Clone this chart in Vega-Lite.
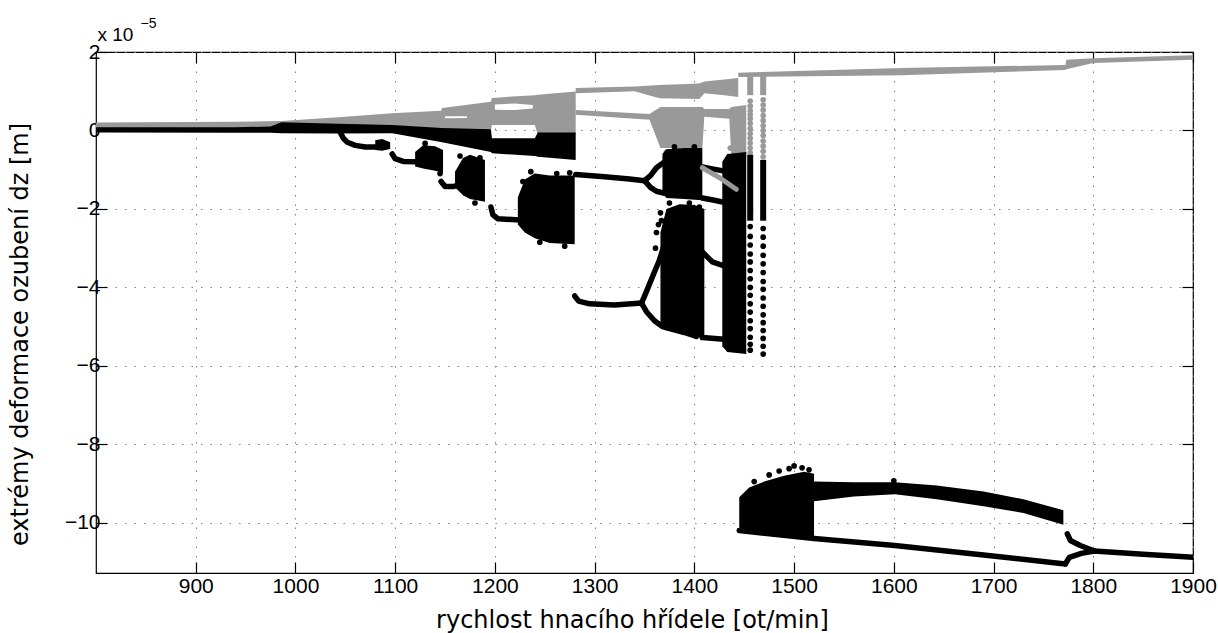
{
  "$schema": "https://vega.github.io/schema/vega-lite/v6.json",
  "width": 1097,
  "height": 521,
  "autosize": {"type": "none"},
  "padding": {"left": 96, "top": 52, "right": 25, "bottom": 60},
  "background": "white",
  "config": {
    "view": {"stroke": "#000000", "strokeWidth": 1.2},
    "font": "Liberation Sans"
  },
  "resolve": {"axis": {"x": "independent", "y": "independent"}},
  "datasets": {
    "grayBand": [
      {"s": "g1", "x": 800, "lo": 0.05, "hi": 0.2},
      {"s": "g1", "x": 940, "lo": 0.05, "hi": 0.22},
      {"s": "g1", "x": 986, "lo": 0.05, "hi": 0.24},
      {"s": "g1", "x": 1043, "lo": 0.05, "hi": 0.34},
      {"s": "g1", "x": 1097, "lo": 0.05, "hi": 0.44},
      {"s": "g1", "x": 1146, "lo": 0.0, "hi": 0.5},
      {"s": "g1", "x": 1147, "lo": 0.0, "hi": 0.57},
      {"s": "g1", "x": 1196, "lo": 0.0, "hi": 0.73},
      {"s": "g1", "x": 1197, "lo": 0.14, "hi": 0.83},
      {"s": "g1", "x": 1240, "lo": 0.14, "hi": 0.9},
      {"s": "g1", "x": 1243, "lo": -0.1, "hi": 0.91},
      {"s": "g1", "x": 1281, "lo": -0.1, "hi": 0.99},
      {"s": "g2", "x": 1281, "lo": 0.95, "hi": 1.08},
      {"s": "g2", "x": 1340, "lo": 1.0, "hi": 1.12},
      {"s": "g2", "x": 1365, "lo": 0.82, "hi": 1.16},
      {"s": "g2", "x": 1405, "lo": 0.8, "hi": 1.2},
      {"s": "g2", "x": 1410, "lo": 0.95, "hi": 1.25},
      {"s": "g2", "x": 1430, "lo": 0.9, "hi": 1.3},
      {"s": "g2", "x": 1444, "lo": 0.85, "hi": 1.34},
      {"s": "g3", "x": 1281, "lo": 0.4, "hi": 0.52},
      {"s": "g3", "x": 1355, "lo": 0.27, "hi": 0.42},
      {"s": "g3", "x": 1366, "lo": -0.45, "hi": 0.6},
      {"s": "g3", "x": 1408, "lo": -0.45, "hi": 0.6},
      {"s": "g3", "x": 1410, "lo": 0.35, "hi": 0.55},
      {"s": "g3", "x": 1435, "lo": 0.3, "hi": 0.55},
      {"s": "g3", "x": 1437, "lo": -0.6, "hi": 0.6},
      {"s": "g3", "x": 1452, "lo": -0.6, "hi": 0.65},
      {"s": "g4", "x": 1444, "lo": 1.36, "hi": 1.47},
      {"s": "g4", "x": 1608, "lo": 1.41, "hi": 1.59},
      {"s": "g4", "x": 1772, "lo": 1.54, "hi": 1.67},
      {"s": "g4", "x": 1773, "lo": 1.56, "hi": 1.8},
      {"s": "g4", "x": 1800, "lo": 1.72, "hi": 1.84},
      {"s": "g4", "x": 1900, "lo": 1.8, "hi": 1.92}
    ],
    "whiteGap": [
      {"s": "w1", "x": 1150, "lo": 0.31, "hi": 0.36},
      {"s": "w1", "x": 1172, "lo": 0.32, "hi": 0.36},
      {"s": "w2", "x": 1200, "lo": 0.53, "hi": 0.66},
      {"s": "w2", "x": 1220, "lo": 0.52, "hi": 0.69},
      {"s": "w2", "x": 1238, "lo": 0.56, "hi": 0.65}
    ],
    "grayRule": [
      {"x": 1456, "y": 0.9, "y2": 1.47},
      {"x": 1469, "y": 0.9, "y2": 1.47}
    ],
    "grayPts": [
      {"x": 1456, "y": 0.75}, {"x": 1456, "y": 0.62}, {"x": 1456, "y": 0.5}, {"x": 1456, "y": 0.4},
      {"x": 1456, "y": 0.3}, {"x": 1456, "y": 0.18}, {"x": 1456, "y": 0.05}, {"x": 1456, "y": -0.08},
      {"x": 1456, "y": -0.2}, {"x": 1456, "y": -0.32}, {"x": 1456, "y": -0.45}, {"x": 1456, "y": -0.57},
      {"x": 1469, "y": 0.78}, {"x": 1469, "y": 0.65}, {"x": 1469, "y": 0.52}, {"x": 1469, "y": 0.38},
      {"x": 1469, "y": 0.25}, {"x": 1469, "y": 0.12}, {"x": 1469, "y": 0.0}, {"x": 1469, "y": -0.13},
      {"x": 1469, "y": -0.27}, {"x": 1469, "y": -0.4}, {"x": 1469, "y": -0.53}, {"x": 1469, "y": -0.67},
      {"x": 1440, "y": -0.7}, {"x": 1436, "y": -0.45}, {"x": 1372, "y": -0.55}, {"x": 1384, "y": -0.5}
    ],
    "blackBand": [
      {"s": "b0", "x": 800, "lo": -0.05, "hi": 0.08},
      {"s": "b0", "x": 940, "lo": -0.06, "hi": 0.08},
      {"s": "b0", "x": 975, "lo": -0.06, "hi": 0.1},
      {"s": "b0", "x": 986, "lo": -0.07, "hi": 0.21},
      {"s": "b0", "x": 1043, "lo": -0.08, "hi": 0.17},
      {"s": "b0", "x": 1097, "lo": -0.07, "hi": 0.14},
      {"s": "b0", "x": 1147, "lo": -0.3, "hi": 0.06},
      {"s": "b0", "x": 1196, "lo": -0.55, "hi": 0.03},
      {"s": "b0", "x": 1197, "lo": -0.58, "hi": -0.2},
      {"s": "b0", "x": 1240, "lo": -0.65, "hi": -0.2},
      {"s": "b0", "x": 1243, "lo": -0.67, "hi": -0.05},
      {"s": "b0", "x": 1281, "lo": -0.75, "hi": -0.05},
      {"s": "blob", "x": 1080, "lo": -0.5, "hi": -0.25},
      {"s": "blob", "x": 1087, "lo": -0.52, "hi": -0.22},
      {"s": "blob", "x": 1095, "lo": -0.47, "hi": -0.3},
      {"s": "c2", "x": 1120, "lo": -0.92, "hi": -0.55},
      {"s": "c2", "x": 1128, "lo": -0.97, "hi": -0.38},
      {"s": "c2", "x": 1140, "lo": -1.03, "hi": -0.4},
      {"s": "c2", "x": 1148, "lo": -1.08, "hi": -0.5},
      {"s": "c3", "x": 1160, "lo": -1.45, "hi": -1.05},
      {"s": "c3", "x": 1168, "lo": -1.65, "hi": -0.7},
      {"s": "c3", "x": 1175, "lo": -1.75, "hi": -0.62},
      {"s": "c3", "x": 1190, "lo": -1.82, "hi": -0.75},
      {"s": "c4", "x": 1223, "lo": -2.4, "hi": -1.7},
      {"s": "c4", "x": 1230, "lo": -2.6, "hi": -1.25},
      {"s": "c4", "x": 1240, "lo": -2.75, "hi": -1.1},
      {"s": "c4", "x": 1255, "lo": -2.87, "hi": -1.15},
      {"s": "c4", "x": 1280, "lo": -2.9, "hi": -1.15},
      {"s": "C1", "x": 1368, "lo": -1.6, "hi": -0.6},
      {"s": "C1", "x": 1372, "lo": -1.72, "hi": -0.48},
      {"s": "C1", "x": 1390, "lo": -1.75, "hi": -0.45},
      {"s": "C1", "x": 1408, "lo": -1.78, "hi": -0.45},
      {"s": "C3", "x": 1366, "lo": -4.95, "hi": -2.6},
      {"s": "C3", "x": 1372, "lo": -5.1, "hi": -2.0},
      {"s": "C3", "x": 1385, "lo": -5.15, "hi": -1.88},
      {"s": "C3", "x": 1400, "lo": -5.25, "hi": -1.9},
      {"s": "C3", "x": 1410, "lo": -5.3, "hi": -2.0},
      {"s": "C2", "x": 1428, "lo": -5.5, "hi": -0.8},
      {"s": "C2", "x": 1433, "lo": -5.65, "hi": -0.6},
      {"s": "C2", "x": 1452, "lo": -5.7, "hi": -0.55},
      {"s": "C5", "x": 1445, "lo": -10.2, "hi": -9.35},
      {"s": "C5", "x": 1455, "lo": -10.25, "hi": -9.1},
      {"s": "C5", "x": 1470, "lo": -10.28, "hi": -8.95},
      {"s": "C5", "x": 1490, "lo": -10.32, "hi": -8.8},
      {"s": "C5", "x": 1510, "lo": -10.35, "hi": -8.7},
      {"s": "C5", "x": 1520, "lo": -10.37, "hi": -8.75},
      {"s": "U", "x": 1520, "lo": -9.45, "hi": -8.95},
      {"s": "U", "x": 1560, "lo": -9.33, "hi": -8.97},
      {"s": "U", "x": 1601, "lo": -9.27, "hi": -8.97},
      {"s": "U", "x": 1643, "lo": -9.4, "hi": -9.05},
      {"s": "U", "x": 1690, "lo": -9.58, "hi": -9.2},
      {"s": "U", "x": 1730, "lo": -9.75, "hi": -9.4},
      {"s": "U", "x": 1770, "lo": -10.05, "hi": -9.68}
    ],
    "blackLine": [
      {"s": "b1", "x": 1045, "y": -0.05}, {"s": "b1", "x": 1048, "y": -0.2}, {"s": "b1", "x": 1052, "y": -0.3},
      {"s": "b1", "x": 1060, "y": -0.38}, {"s": "b1", "x": 1070, "y": -0.42}, {"s": "b1", "x": 1082, "y": -0.42},
      {"s": "b2", "x": 1097, "y": -0.6}, {"s": "b2", "x": 1100, "y": -0.72}, {"s": "b2", "x": 1108, "y": -0.79}, {"s": "b2", "x": 1122, "y": -0.8},
      {"s": "b3", "x": 1146, "y": -1.3}, {"s": "b3", "x": 1150, "y": -1.43}, {"s": "b3", "x": 1158, "y": -1.43}, {"s": "b3", "x": 1165, "y": -1.38},
      {"s": "b4", "x": 1196, "y": -1.95}, {"s": "b4", "x": 1198, "y": -2.15}, {"s": "b4", "x": 1203, "y": -2.25}, {"s": "b4", "x": 1225, "y": -2.28},
      {"s": "L1", "x": 1281, "y": -1.12}, {"s": "L1", "x": 1310, "y": -1.18}, {"s": "L1", "x": 1335, "y": -1.24}, {"s": "L1", "x": 1350, "y": -1.28},
      {"s": "L1u", "x": 1350, "y": -1.28}, {"s": "L1u", "x": 1356, "y": -1.15}, {"s": "L1u", "x": 1362, "y": -0.95}, {"s": "L1u", "x": 1370, "y": -0.8},
      {"s": "L1l", "x": 1350, "y": -1.28}, {"s": "L1l", "x": 1356, "y": -1.45}, {"s": "L1l", "x": 1362, "y": -1.55}, {"s": "L1l", "x": 1370, "y": -1.6},
      {"s": "R1u", "x": 1408, "y": -0.93}, {"s": "R1u", "x": 1418, "y": -0.98}, {"s": "R1u", "x": 1433, "y": -1.05},
      {"s": "R1l", "x": 1408, "y": -1.72}, {"s": "R1l", "x": 1420, "y": -1.78}, {"s": "R1l", "x": 1433, "y": -1.85},
      {"s": "L2", "x": 1280, "y": -4.22}, {"s": "L2", "x": 1284, "y": -4.35}, {"s": "L2", "x": 1295, "y": -4.42}, {"s": "L2", "x": 1320, "y": -4.45}, {"s": "L2", "x": 1347, "y": -4.4},
      {"s": "L2u", "x": 1347, "y": -4.4}, {"s": "L2u", "x": 1352, "y": -4.1}, {"s": "L2u", "x": 1358, "y": -3.73}, {"s": "L2u", "x": 1365, "y": -3.3}, {"s": "L2u", "x": 1370, "y": -2.9}, {"s": "L2u", "x": 1373, "y": -2.6},
      {"s": "L2l", "x": 1347, "y": -4.4}, {"s": "L2l", "x": 1352, "y": -4.62}, {"s": "L2l", "x": 1360, "y": -4.85}, {"s": "L2l", "x": 1368, "y": -5.0}, {"s": "L2l", "x": 1390, "y": -5.15}, {"s": "L2l", "x": 1402, "y": -5.25},
      {"s": "R2u", "x": 1408, "y": -3.1}, {"s": "R2u", "x": 1418, "y": -3.35}, {"s": "R2u", "x": 1433, "y": -3.48},
      {"s": "R2l", "x": 1408, "y": -5.28}, {"s": "R2l", "x": 1433, "y": -5.33},
      {"s": "low", "x": 1445, "y": -10.2}, {"s": "low", "x": 1520, "y": -10.4}, {"s": "low", "x": 1601, "y": -10.58}, {"s": "low", "x": 1690, "y": -10.82}, {"s": "low", "x": 1772, "y": -11.05},
      {"s": "tU", "x": 1774, "y": -10.28}, {"s": "tU", "x": 1777, "y": -10.45}, {"s": "tU", "x": 1787, "y": -10.58}, {"s": "tU", "x": 1801, "y": -10.72},
      {"s": "tL", "x": 1772, "y": -11.05}, {"s": "tL", "x": 1776, "y": -10.88}, {"s": "tL", "x": 1788, "y": -10.78}, {"s": "tL", "x": 1801, "y": -10.72},
      {"s": "fin", "x": 1801, "y": -10.72}, {"s": "fin", "x": 1850, "y": -10.8}, {"s": "fin", "x": 1900, "y": -10.88}
    ],
    "blackRule": [
      {"x": 1456, "y": -2.3, "y2": -0.62},
      {"x": 1469, "y": -2.3, "y2": -0.75}
    ],
    "blackPts": [
      {"x": 1456, "y": -2.45}, {"x": 1456, "y": -2.7}, {"x": 1456, "y": -2.92}, {"x": 1456, "y": -3.15},
      {"x": 1456, "y": -3.35}, {"x": 1456, "y": -3.57}, {"x": 1456, "y": -3.78}, {"x": 1456, "y": -4.0},
      {"x": 1456, "y": -4.2}, {"x": 1456, "y": -4.42}, {"x": 1456, "y": -4.63}, {"x": 1456, "y": -4.85},
      {"x": 1456, "y": -5.05}, {"x": 1456, "y": -5.27}, {"x": 1456, "y": -5.45}, {"x": 1456, "y": -5.6},
      {"x": 1469, "y": -2.5}, {"x": 1469, "y": -2.72}, {"x": 1469, "y": -2.95}, {"x": 1469, "y": -3.18},
      {"x": 1469, "y": -3.4}, {"x": 1469, "y": -3.62}, {"x": 1469, "y": -3.85}, {"x": 1469, "y": -4.05},
      {"x": 1469, "y": -4.27}, {"x": 1469, "y": -4.48}, {"x": 1469, "y": -4.7}, {"x": 1469, "y": -4.9},
      {"x": 1469, "y": -5.1}, {"x": 1469, "y": -5.3}, {"x": 1469, "y": -5.5}, {"x": 1469, "y": -5.7},
      {"x": 1366, "y": -2.1}, {"x": 1367, "y": -2.3}, {"x": 1375, "y": -1.85}, {"x": 1395, "y": -1.85},
      {"x": 1362, "y": -2.6}, {"x": 1361, "y": -3.0}, {"x": 1364, "y": -2.4}, {"x": 1405, "y": -1.95},
      {"x": 1380, "y": -0.42}, {"x": 1400, "y": -0.42},
      {"x": 1228, "y": -1.3}, {"x": 1236, "y": -1.05}, {"x": 1262, "y": -1.1}, {"x": 1275, "y": -1.08},
      {"x": 1245, "y": -2.85}, {"x": 1270, "y": -2.95}, {"x": 1165, "y": -0.65}, {"x": 1185, "y": -0.7},
      {"x": 1180, "y": -1.85}, {"x": 1130, "y": -0.33}, {"x": 1145, "y": -1.1},
      {"x": 1460, "y": -8.95}, {"x": 1475, "y": -8.78}, {"x": 1485, "y": -8.68}, {"x": 1495, "y": -8.62},
      {"x": 1500, "y": -8.55}, {"x": 1508, "y": -8.6}, {"x": 1515, "y": -8.65}, {"x": 1600, "y": -8.93}
    ],
    "grayLine": [
      {"s": "st", "x": 1408, "y": -0.95}, {"s": "st", "x": 1425, "y": -1.2}, {"s": "st", "x": 1442, "y": -1.5}
    ]
  },
  "layer": [
    {
      "data": {"name": "grayBand"},
      "mark": {"type": "area", "color": "#999999", "clip": true},
      "encoding": {
        "x": {"field": "x", "type": "quantitative", "scale": {"domain": [800, 1900], "nice": false, "zero": false},
          "axis": {"orient": "bottom", "format": "d", "values": [900, 1000, 1100, 1200, 1300, 1400, 1500, 1600, 1700, 1800, 1900], "grid": true, "gridDash": [1.5, 8], "gridColor": "#808080", "gridWidth": 1, "domain": false, "tickSize": -11, "tickColor": "#000000", "tickWidth": 1.2, "labelFontSize": 21, "labelFont": "Liberation Sans", "labelColor": "#000000", "labelPadding": 13, "labelFlush": false, "labelOverlap": false, "title": "rychlost hnacího hřídele [ot/min]", "titleFont": "DejaVu Sans", "titleFontSize": 24, "titleFontWeight": "normal", "titleColor": "#000000", "titleAlign": "center", "titleBaseline": "alphabetic", "titleX": 536, "titleY": 54}},
        "y": {"field": "lo", "type": "quantitative", "scale": {"domain": [-11.28, 2], "nice": false, "zero": false},
          "axis": {"orient": "left", "values": [-10, -8, -6, -4, -2, 0, 2], "grid": true, "gridDash": [1.5, 8], "gridColor": "#808080", "gridWidth": 1, "domain": false, "tickSize": -11, "tickColor": "#000000", "tickWidth": 1.2, "labelFontSize": 21, "labelFont": "Liberation Sans", "labelColor": "#000000", "labelPadding": 7, "labelFlush": false, "labelOverlap": false, "title": "extrémy deformace ozubení dz [m]", "titleFont": "DejaVu Sans", "titleFontSize": 24, "titleFontWeight": "normal", "titleColor": "#000000", "titleAngle": 270, "titleAlign": "center", "titleBaseline": "middle", "titleX": -76, "titleY": 282}},
        "y2": {"field": "hi"},
        "detail": {"field": "s"}
      }
    },
    {
      "data": {"name": "whiteGap"},
      "mark": {"type": "area", "color": "#ffffff", "clip": true},
      "encoding": {
        "x": {"field": "x", "type": "quantitative", "axis": null},
        "y": {"field": "lo", "type": "quantitative", "axis": null},
        "y2": {"field": "hi"},
        "detail": {"field": "s"}
      }
    },
    {
      "data": {"name": "grayRule"},
      "mark": {"type": "rule", "color": "#999999", "strokeWidth": 6, "clip": true},
      "encoding": {
        "x": {"field": "x", "type": "quantitative", "axis": null},
        "y": {"field": "y", "type": "quantitative", "axis": null},
        "y2": {"field": "y2"}
      }
    },
    {
      "data": {"name": "grayPts"},
      "mark": {"type": "circle", "color": "#999999", "size": 32, "opacity": 1, "clip": true},
      "encoding": {
        "x": {"field": "x", "type": "quantitative", "axis": null},
        "y": {"field": "y", "type": "quantitative", "axis": null}
      }
    },
    {
      "data": {"name": "blackBand"},
      "mark": {"type": "area", "color": "#000000", "clip": true},
      "encoding": {
        "x": {"field": "x", "type": "quantitative", "axis": null},
        "y": {"field": "lo", "type": "quantitative", "axis": null},
        "y2": {"field": "hi"},
        "detail": {"field": "s"}
      }
    },
    {
      "data": {"name": "blackLine"},
      "mark": {"type": "line", "color": "#000000", "strokeWidth": 5.5, "strokeCap": "round", "strokeJoin": "round", "clip": true},
      "encoding": {
        "x": {"field": "x", "type": "quantitative", "axis": null},
        "y": {"field": "y", "type": "quantitative", "axis": null},
        "detail": {"field": "s"}
      }
    },
    {
      "data": {"name": "blackRule"},
      "mark": {"type": "rule", "color": "#000000", "strokeWidth": 6, "clip": true},
      "encoding": {
        "x": {"field": "x", "type": "quantitative", "axis": null},
        "y": {"field": "y", "type": "quantitative", "axis": null},
        "y2": {"field": "y2"}
      }
    },
    {
      "data": {"name": "blackPts"},
      "mark": {"type": "circle", "color": "#000000", "size": 32, "opacity": 1, "clip": true},
      "encoding": {
        "x": {"field": "x", "type": "quantitative", "axis": null},
        "y": {"field": "y", "type": "quantitative", "axis": null}
      }
    },
    {
      "data": {"name": "grayLine"},
      "mark": {"type": "line", "color": "#999999", "strokeWidth": 5, "strokeCap": "round", "clip": true},
      "encoding": {
        "x": {"field": "x", "type": "quantitative",
          "axis": {"orient": "top", "values": [900, 1000, 1100, 1200, 1300, 1400, 1500, 1600, 1700, 1800, 1900], "grid": false, "domain": false, "labels": false, "tickSize": -11, "tickColor": "#000000", "tickWidth": 1.2, "title": "x 10", "titleFont": "Liberation Sans", "titleFontSize": 19, "titleFontWeight": "normal", "titleColor": "#000000", "titleAngle": 0, "titleAlign": "left", "titleBaseline": "alphabetic", "titleX": 1, "titleY": -12}},
        "y": {"field": "y", "type": "quantitative",
          "axis": {"orient": "right", "values": [-10, -8, -6, -4, -2, 0, 2], "grid": false, "domain": false, "labels": false, "tickSize": -11, "tickColor": "#000000", "tickWidth": 1.2, "title": "−5", "titleFont": "Liberation Sans", "titleFontSize": 14, "titleFontWeight": "normal", "titleColor": "#000000", "titleAngle": 0, "titleAlign": "left", "titleBaseline": "alphabetic", "titleX": -1053, "titleY": -25}},
        "detail": {"field": "s"}
      }
    }
  ]
}
